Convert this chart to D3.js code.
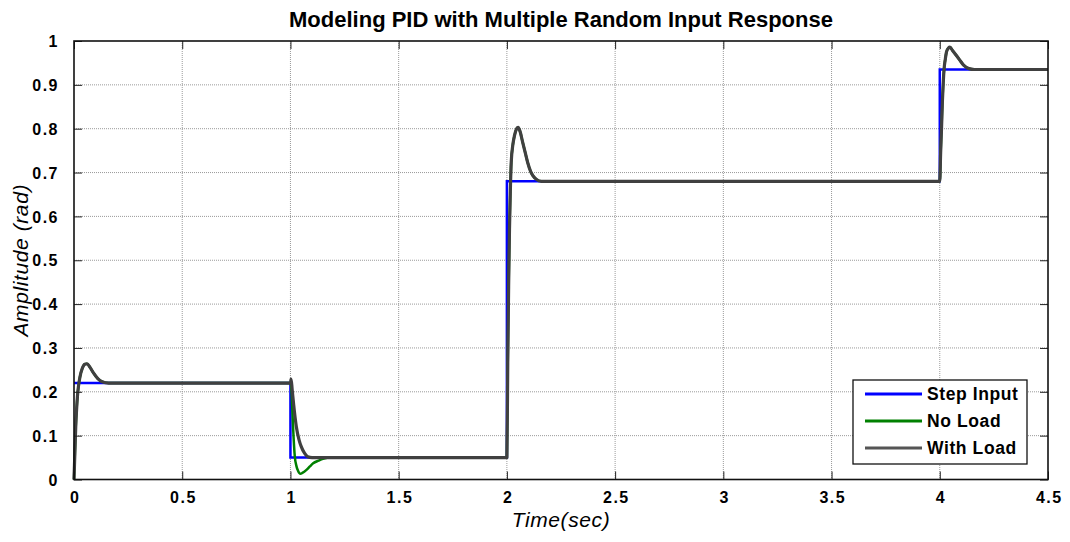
<!DOCTYPE html>
<html>
<head>
<meta charset="utf-8">
<script src="https://cdn.jsdelivr.net/npm/d3@7"></script>
<style>
  html, body { margin: 0; padding: 0; background: #fff; }
  svg { display: block; font-family: Arial, "Liberation Sans", Helvetica, sans-serif; }
</style>
</head>
<body>
<svg id="chart" width="1070" height="542"></svg>
<script>
// ---------- data ----------
const title = "Modeling PID with Multiple Random Input Response";
const xLabel = "Time(sec)";
const yLabel = "Amplitude (rad)";

const xTicks = [0, 0.5, 1, 1.5, 2, 2.5, 3, 3.5, 4, 4.5];
const yTicks = [0, 0.1, 0.2, 0.3, 0.4, 0.5, 0.6, 0.7, 0.8, 0.9, 1];

// Step input: level holds from each time until the next
const stepTimes  = [0, 1, 2, 4, 4.5];
const stepLevels = [0.22, 0.05, 0.68, 0.935, 0.935];

// With Load response
const withLoadT = [0, 0.004, 0.008, 0.012, 0.016, 0.02, 0.028, 0.038, 0.05, 0.06, 0.075, 0.09, 0.11, 0.13, 0.16,
  1.0, 1.003, 1.008, 1.015, 1.027, 1.04, 1.05, 1.065, 1.08, 1.1,
  2.0, 2.004, 2.008, 2.012, 2.016, 2.02, 2.028, 2.035, 2.045, 2.052, 2.06, 2.073, 2.085, 2.096, 2.11, 2.12, 2.135, 2.16,
  4.0, 4.004, 4.008, 4.012, 4.016, 4.02, 4.026, 4.031, 4.04, 4.047, 4.058, 4.075, 4.09, 4.11, 4.135, 4.16, 4.5];
const withLoadV = [0, 0.06, 0.12, 0.16, 0.19, 0.21, 0.235, 0.253, 0.263, 0.264, 0.255, 0.243, 0.23, 0.223, 0.22,
  0.22, 0.229, 0.205, 0.17, 0.121, 0.09, 0.075, 0.06, 0.052, 0.05,
  0.05, 0.266, 0.44, 0.571, 0.66, 0.723, 0.765, 0.784, 0.8, 0.803, 0.795, 0.769, 0.745, 0.723, 0.702, 0.693, 0.685, 0.68,
  0.68, 0.746, 0.8, 0.861, 0.905, 0.937, 0.96, 0.975, 0.984, 0.986, 0.979, 0.968, 0.958, 0.945, 0.937, 0.935, 0.935];

// No Load response (mostly hidden beneath With Load, visible after t = 1)
const noLoadT = [0, 0.004, 0.008, 0.012, 0.016, 0.02, 0.028, 0.038, 0.05, 0.06, 0.075, 0.09, 0.11, 0.13, 0.16,
  1.0, 1.003, 1.006, 1.012, 1.02, 1.028, 1.035, 1.046, 1.055, 1.074, 1.09, 1.105, 1.13, 1.15, 1.19,
  2.0, 2.004, 2.008, 2.012, 2.016, 2.02, 2.028, 2.035, 2.045, 2.052, 2.06, 2.073, 2.085, 2.096, 2.11, 2.12, 2.135, 2.16,
  4.0, 4.004, 4.008, 4.012, 4.016, 4.02, 4.026, 4.031, 4.04, 4.047, 4.058, 4.075, 4.09, 4.11, 4.135, 4.16, 4.5];
const noLoadV = [0, 0.06, 0.12, 0.16, 0.19, 0.21, 0.235, 0.253, 0.263, 0.264, 0.255, 0.243, 0.23, 0.223, 0.22,
  0.22, 0.215, 0.19, 0.121, 0.053, 0.03, 0.02, 0.013, 0.015, 0.022, 0.03, 0.037, 0.043, 0.047, 0.05,
  0.05, 0.266, 0.44, 0.571, 0.66, 0.723, 0.765, 0.784, 0.8, 0.803, 0.795, 0.769, 0.745, 0.723, 0.702, 0.693, 0.685, 0.68,
  0.68, 0.746, 0.8, 0.861, 0.905, 0.937, 0.96, 0.975, 0.984, 0.986, 0.979, 0.968, 0.958, 0.945, 0.937, 0.935, 0.935];

const seriesNames = ["Step Input", "No Load", "With Load"];
const seriesColors = ["#0000ff", "#008000", "#404040"];

// ---------- layout ----------
const svg = d3.select("#chart");
const L = 74, R = 1048, T = 41, B = 479.5;

const x = d3.scaleLinear().domain([0, 4.5]).range([L, R]);
const y = d3.scaleLinear().domain([0, 1]).range([B, T]);

// grid
const grid = svg.append("g");
grid.selectAll("line.gx").data(xTicks.slice(1, -1)).join("line")
  .attr("x1", d => x(d)).attr("x2", d => x(d)).attr("y1", T).attr("y2", B)
  .attr("stroke", "#9a9a9a").attr("stroke-width", 1).attr("stroke-dasharray", "1,1");
grid.selectAll("line.gy").data(yTicks.slice(1, -1)).join("line")
  .attr("x1", L).attr("x2", R).attr("y1", d => y(d)).attr("y2", d => y(d))
  .attr("stroke", "#9a9a9a").attr("stroke-width", 1).attr("stroke-dasharray", "1,1");

// data lines
const line = d3.line().x(d => x(d[0])).y(d => y(d[1]));
const stepData = stepTimes.map((t, i) => [t, stepLevels[i]]);
const noLoadData = noLoadT.map((t, i) => [t, noLoadV[i]]);
const withLoadData = withLoadT.map((t, i) => [t, withLoadV[i]]);

const plot = svg.append("g");
plot.append("path").datum(stepData)
  .attr("d", d3.line().x(d => x(d[0])).y(d => y(d[1])).curve(d3.curveStepAfter))
  .attr("fill", "none").attr("stroke", seriesColors[0]).attr("stroke-width", 2.5);
plot.append("path").datum(noLoadData).attr("d", line.curve(d3.curveMonotoneX))
  .attr("fill", "none").attr("stroke", seriesColors[1]).attr("stroke-width", 2.5)
  .attr("stroke-linejoin", "round");
plot.append("path").datum(withLoadData).attr("d", line.curve(d3.curveMonotoneX))
  .attr("fill", "none").attr("stroke", seriesColors[2]).attr("stroke-width", 3.2)
  .attr("stroke-linejoin", "round");

// axes (MATLAB style: ticks inside, box)
const tickFont = g => g.selectAll("text")
  .attr("font-size", 16).attr("font-weight", "bold").attr("fill", "#000")
  .style("letter-spacing", "1.5px");

const xAxis = svg.append("g").attr("transform", `translate(0,${B})`)
  .call(d3.axisBottom(x).tickValues(xTicks).tickFormat(d3.format("")).tickSizeInner(-8).tickSizeOuter(0).tickPadding(12));
xAxis.call(tickFont);
xAxis.select(".domain").remove();
xAxis.selectAll("text").attr("dx", "0.75px");

const xAxisTop = svg.append("g").attr("transform", `translate(0,${T})`)
  .call(d3.axisTop(x).tickValues(xTicks).tickFormat("").tickSizeInner(-8).tickSizeOuter(0));
xAxisTop.select(".domain").remove();

const yAxis = svg.append("g").attr("transform", `translate(${L},0)`)
  .call(d3.axisLeft(y).tickValues(yTicks).tickFormat(d3.format("")).tickSizeInner(-8).tickSizeOuter(0).tickPadding(15));
yAxis.call(tickFont);
yAxis.select(".domain").remove();
yAxis.selectAll("text").attr("dy", "0.35em");

const yAxisRight = svg.append("g").attr("transform", `translate(${R},0)`)
  .call(d3.axisRight(y).tickValues(yTicks).tickFormat("").tickSizeInner(-8).tickSizeOuter(0));
yAxisRight.select(".domain").remove();

svg.selectAll(".tick line").attr("stroke", "#222").attr("stroke-width", 1);

// box
svg.append("rect").attr("x", L).attr("y", T).attr("width", R - L).attr("height", B - T)
  .attr("fill", "none").attr("stroke", "#111").attr("stroke-width", 1.6);

// titles
svg.append("text").attr("x", (L + R) / 2).attr("y", 27).attr("text-anchor", "middle")
  .attr("font-size", 22).attr("font-weight", "bold").text(title);
svg.append("text").attr("x", (L + R) / 2).attr("y", 527).attr("text-anchor", "middle")
  .attr("font-size", 21).attr("font-style", "italic").style("letter-spacing", "0.6px").text(xLabel);
svg.append("text").attr("transform", `translate(28,${(T + B) / 2}) rotate(-90)`).attr("text-anchor", "middle")
  .attr("font-size", 21).attr("font-style", "italic").style("letter-spacing", "0.6px").text(yLabel);

// legend
const lg = svg.append("g");
lg.append("rect").attr("x", 853).attr("y", 380).attr("width", 174).attr("height", 84)
  .attr("fill", "#fff").attr("stroke", "#111").attr("stroke-width", 1.3);
const rows = lg.selectAll("g.row").data(seriesNames).join("g")
  .attr("transform", (d, i) => `translate(0,${394 + i * 27})`);
rows.append("line").attr("x1", 865).attr("x2", 922).attr("y1", 0).attr("y2", 0)
  .attr("stroke", (d, i) => i === 2 ? "#555" : seriesColors[i]).attr("stroke-width", 3);
rows.append("text").attr("x", 927).attr("y", 0).attr("dy", "0.36em")
  .attr("font-size", 17.5).attr("font-weight", "bold").style("letter-spacing", "0.6px").text(d => d);
</script>
</body>
</html>
